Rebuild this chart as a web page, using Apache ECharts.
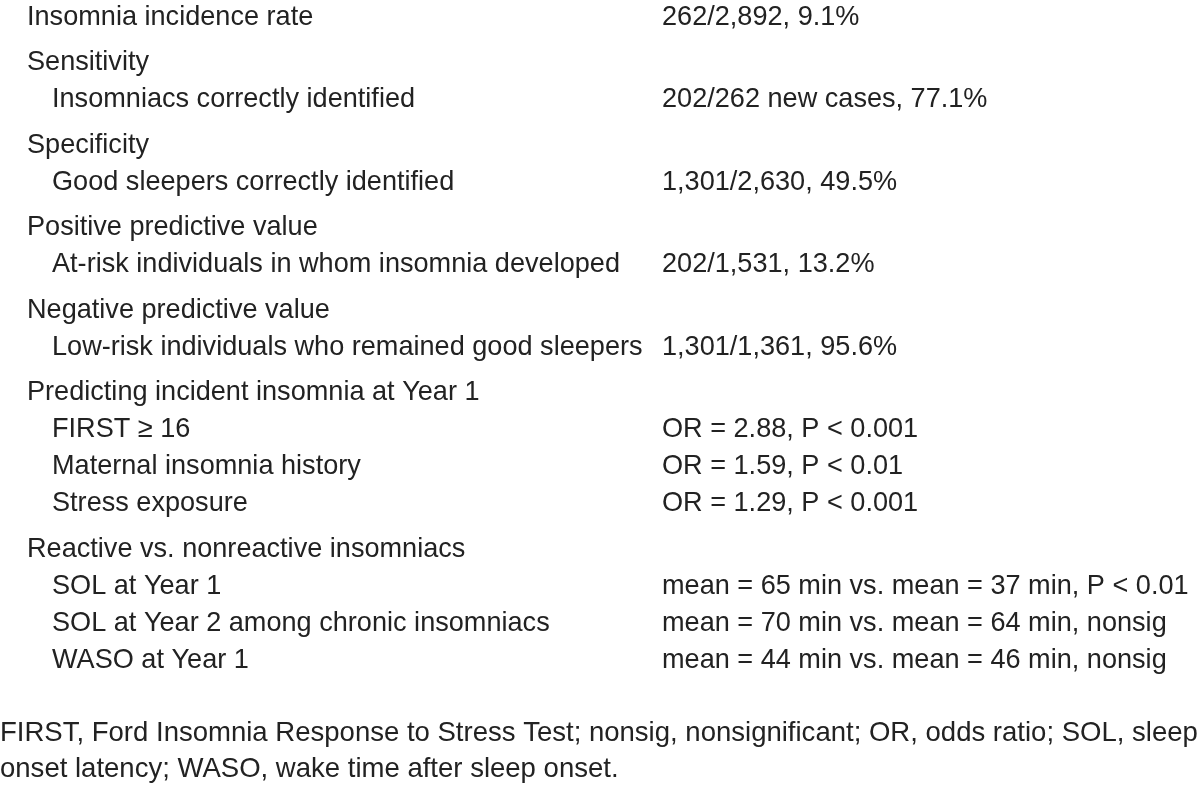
<!DOCTYPE html>
<html>
<head>
<meta charset="utf-8">
<script src="https://cdn.jsdelivr.net/npm/echarts@6/dist/echarts.min.js"></script>
<style>
html,body{margin:0;padding:0;background:#fff;}
#chart{width:1200px;height:794px;}
</style>
</head>
<body>
<div id="chart"></div>
<script>
// Row labels, their values and indent level (0 = heading, 1 = sub-row)
const rowLabels = [
  "Insomnia incidence rate",
  "Sensitivity",
  "Insomniacs correctly identified",
  "Specificity",
  "Good sleepers correctly identified",
  "Positive predictive value",
  "At-risk individuals in whom insomnia developed",
  "Negative predictive value",
  "Low-risk individuals who remained good sleepers",
  "Predicting incident insomnia at Year 1",
  "FIRST \u2265 16",
  "Maternal insomnia history",
  "Stress exposure",
  "Reactive vs. nonreactive insomniacs",
  "SOL at Year 1",
  "SOL at Year 2 among chronic insomniacs",
  "WASO at Year 1"
];
const rowValues = [
  "262/2,892, 9.1%",
  "",
  "202/262 new cases, 77.1%",
  "",
  "1,301/2,630, 49.5%",
  "",
  "202/1,531, 13.2%",
  "",
  "1,301/1,361, 95.6%",
  "",
  "OR = 2.88, P < 0.001",
  "OR = 1.59, P < 0.01",
  "OR = 1.29, P < 0.001",
  "",
  "mean = 65 min vs. mean = 37 min, P < 0.01",
  "mean = 70 min vs. mean = 64 min, nonsig",
  "mean = 44 min vs. mean = 46 min, nonsig"
];
const rowLevels = [0,0,1,0,1,0,1,0,1,0,1,1,1,0,1,1,1];
const footnoteLines = [
  "FIRST, Ford Insomnia Response to Stress Test; nonsig, nonsignificant; OR, odds ratio; SOL, sleep",
  "onset latency; WASO, wake time after sleep onset."
];

const chart = echarts.init(document.getElementById('chart'), null, {renderer: 'canvas'});
const FONT = '28px "Liberation Sans", Arial, sans-serif';
const COLOR = '#222222';
const elements = [];
function addText(txt, x, y, sx) {
  elements.push({
    type: 'text', x: x, y: y, scaleX: sx, scaleY: 1,
    style: {text: txt, x: 0, y: 0, font: FONT, fill: COLOR, textAlign: 'left', textVerticalAlign: 'bottom'}
  });
}
const OFF = 6;
let y = 25;
for (let i = 0; i < rowLabels.length; i++) {
  if (i > 0) y += (rowLevels[i] === 0) ? 45.5 : 37;
  addText(rowLabels[i], rowLevels[i] === 0 ? 27 : 52, y + OFF, 0.968);
  if (rowValues[i]) addText(rowValues[i], 662, y + OFF, 0.968);
}
let fy = 741;
footnoteLines.forEach(function (l) { addText(l, 0, fy + OFF, 0.983); fy += 36; });

chart.setOption({
  backgroundColor: '#ffffff',
  animation: false,
  graphic: {elements: elements}
});
</script>
</body>
</html>
